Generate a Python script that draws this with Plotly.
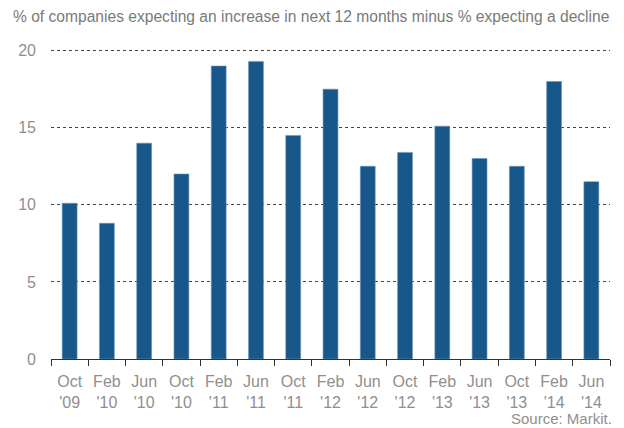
import plotly.graph_objects as go

months = ["Oct", "Feb", "Jun", "Oct", "Feb", "Jun", "Oct", "Feb", "Jun", "Oct", "Feb", "Jun", "Oct", "Feb", "Jun"]
years = ["'09", "'10", "'10", "'10", "'11", "'11", "'11", "'12", "'12", "'12", "'13", "'13", "'13", "'14", "'14"]
values = [10.1, 8.8, 14.0, 12.0, 19.0, 19.3, 14.5, 17.5, 12.5, 13.4, 15.1, 13.0, 12.5, 18.0, 11.5]
y_ticks = [0, 5, 10, 15, 20]

categories = [f"{m}<br>{y}" for m, y in zip(months, years)]

fig = go.Figure(go.Bar(
    x=categories, y=values,
    marker=dict(color="#18578A", line=dict(color="#6f95b8", width=0.6)),
))

fig.update_layout(
    width=624, height=428,
    margin=dict(l=51, r=14, t=46, b=69),
    plot_bgcolor="white", paper_bgcolor="white",
    bargap=0.6,
    showlegend=False,
    font=dict(family="Liberation Sans, Arial, sans-serif", color="#8f8f8f", size=16),
    xaxis=dict(
        showline=True, linecolor="#333", linewidth=1,
        ticks="outside", tickson="boundaries", ticklen=6, tickcolor="#333",
        tickfont=dict(size=16, color="#8f8f8f"),
        ticklabelstandoff=8,
        showgrid=False,
    ),
    yaxis=dict(
        range=[0, 20.3], tickvals=y_ticks,
        showgrid=True, gridcolor="#444", griddash="dot", gridwidth=1,
        zeroline=False, showline=False,
        tickfont=dict(size=16, color="#8f8f8f"),
        ticklabelstandoff=14,
    ),
    annotations=[
        dict(text="% of companies expecting an increase in next 12 months minus % expecting a decline",
             xref="paper", yref="paper", x=-0.071, y=1.0, yshift=30, xanchor="left", yanchor="middle",
             showarrow=False, font=dict(size=15.6, color="#7a7a7a")),
        dict(text="Source: Markit.", xref="paper", yref="paper", x=1.0, xshift=4, y=0, yshift=-59,
             xanchor="right", yanchor="middle", showarrow=False,
             font=dict(size=15, color="#8f8f8f")),
    ],
)

fig.write_html("out.html")
